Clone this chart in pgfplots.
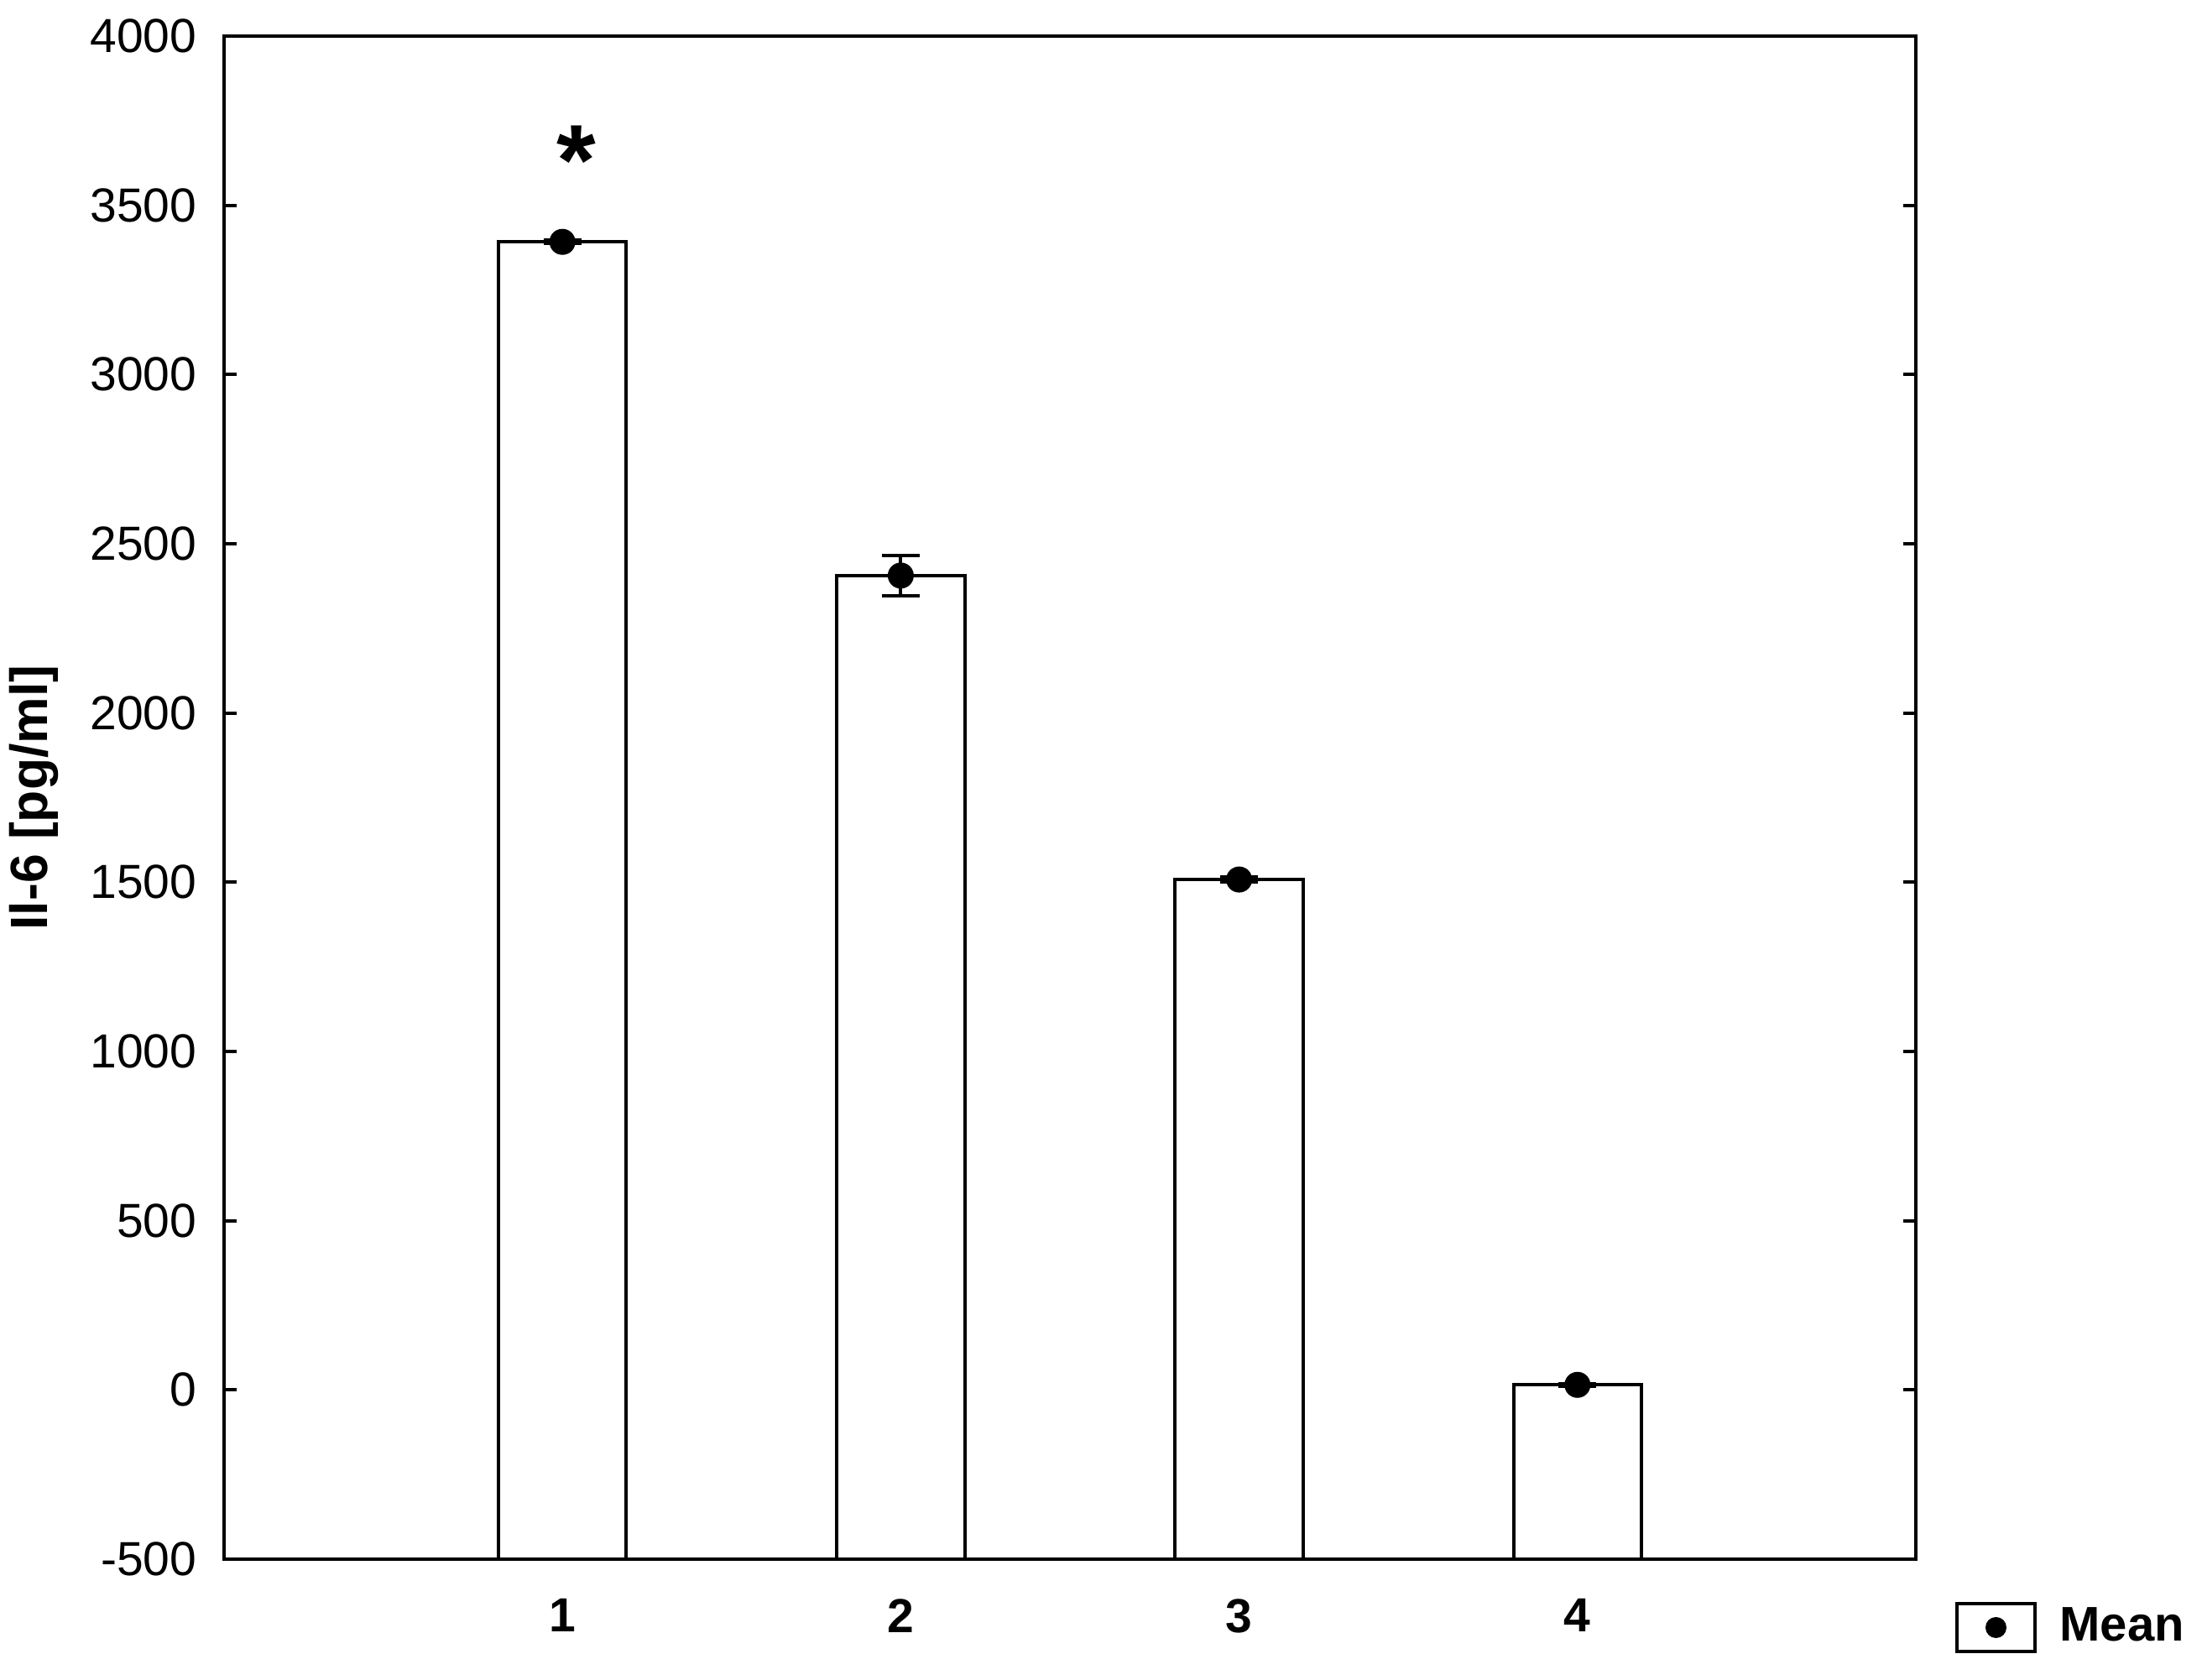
\documentclass[border=0pt]{standalone}
\usepackage{fontspec}
\setmainfont{Liberation Sans}
\usepackage{pgfplots}
\pgfplotsset{compat=1.18}
\usetikzlibrary{calc}

% mean and error for each group
\pgfplotstableread{
x   y     err
1   3392  5
2   2406  59
3   1508  8
4   15    4
}\ilsix

\begin{document}
\begin{tikzpicture}
\begin{axis}[
    scale only axis,
    width=403.2pt, height=363pt,
    font=\fontsize{11.4}{13}\selectfont,
    /pgf/number format/assume math mode=true,
    /pgf/number format/set thousands separator={},
    axis line style={line width=0.8pt},
    every tick/.style={line width=0.8pt, black},
    major tick length=3pt,
    tick align=inside,
    xmin=0, xmax=5,
    ymin=-500, ymax=4000,
    y coord trafo/.code={\pgfmathparse{#1+500}},
    y coord inv trafo/.code={\pgfmathparse{#1-500}},
    xtick={1,2,3,4},
    ytick={-500,0,...,4000},
    xtick pos=lower,
    ytick pos=both,
    yticklabel style={xshift=-3pt},
    xticklabel style={font=\fontsize{11.4}{13}\selectfont\bfseries, yshift=-6pt},
    ylabel={Il-6 [pg/ml]},
    ylabel style={at={(axis description cs:-0.1126,0.5)}, anchor=center,
        font=\fontsize{12.5}{14}\selectfont\bfseries},
    legend style={at={(axis description cs:1,0)}, anchor=west,
        xshift=9.2pt, yshift=-16.3pt, draw=none, fill=none, inner sep=0pt,
        nodes={inner sep=0pt, font=\fontsize{11.6}{13}\selectfont\bfseries},
        /tikz/every odd column/.append style={column sep=5.5pt}},
]
\addplot[ybar, bar width=0.378, fill=white, draw=black, line width=0.8pt,
    forget plot] table[x=x, y=y] {\ilsix};
\addplot[only marks, mark=*, mark size=2.9pt, black,
    error bars/.cd, y dir=both, y explicit,
    error bar style={line width=0.8pt, black},
    error mark options={rotate=90, mark size=4.5pt, line width=0.8pt, black},
    ] table[x=x, y=y, y error=err] {\ilsix};
\addlegendimage{legend image code/.code={
    \draw[line width=0.8pt] (0pt,-5.7pt) rectangle (18.6pt,5.7pt);
    \fill (9.3pt,0pt) circle (2.3pt);}}
\legend{,Mean}
\node[font=\fontsize{24}{24}\selectfont\bfseries] at (axis cs:1.042,3632) {*};
\end{axis}
\pgfresetboundingbox
\useasboundingbox ($(current axis.south west)+(-53.4pt,-28.8pt)$) rectangle ($(current axis.north east)+(68.2pt,8.6pt)$);
\end{tikzpicture}
\end{document}
